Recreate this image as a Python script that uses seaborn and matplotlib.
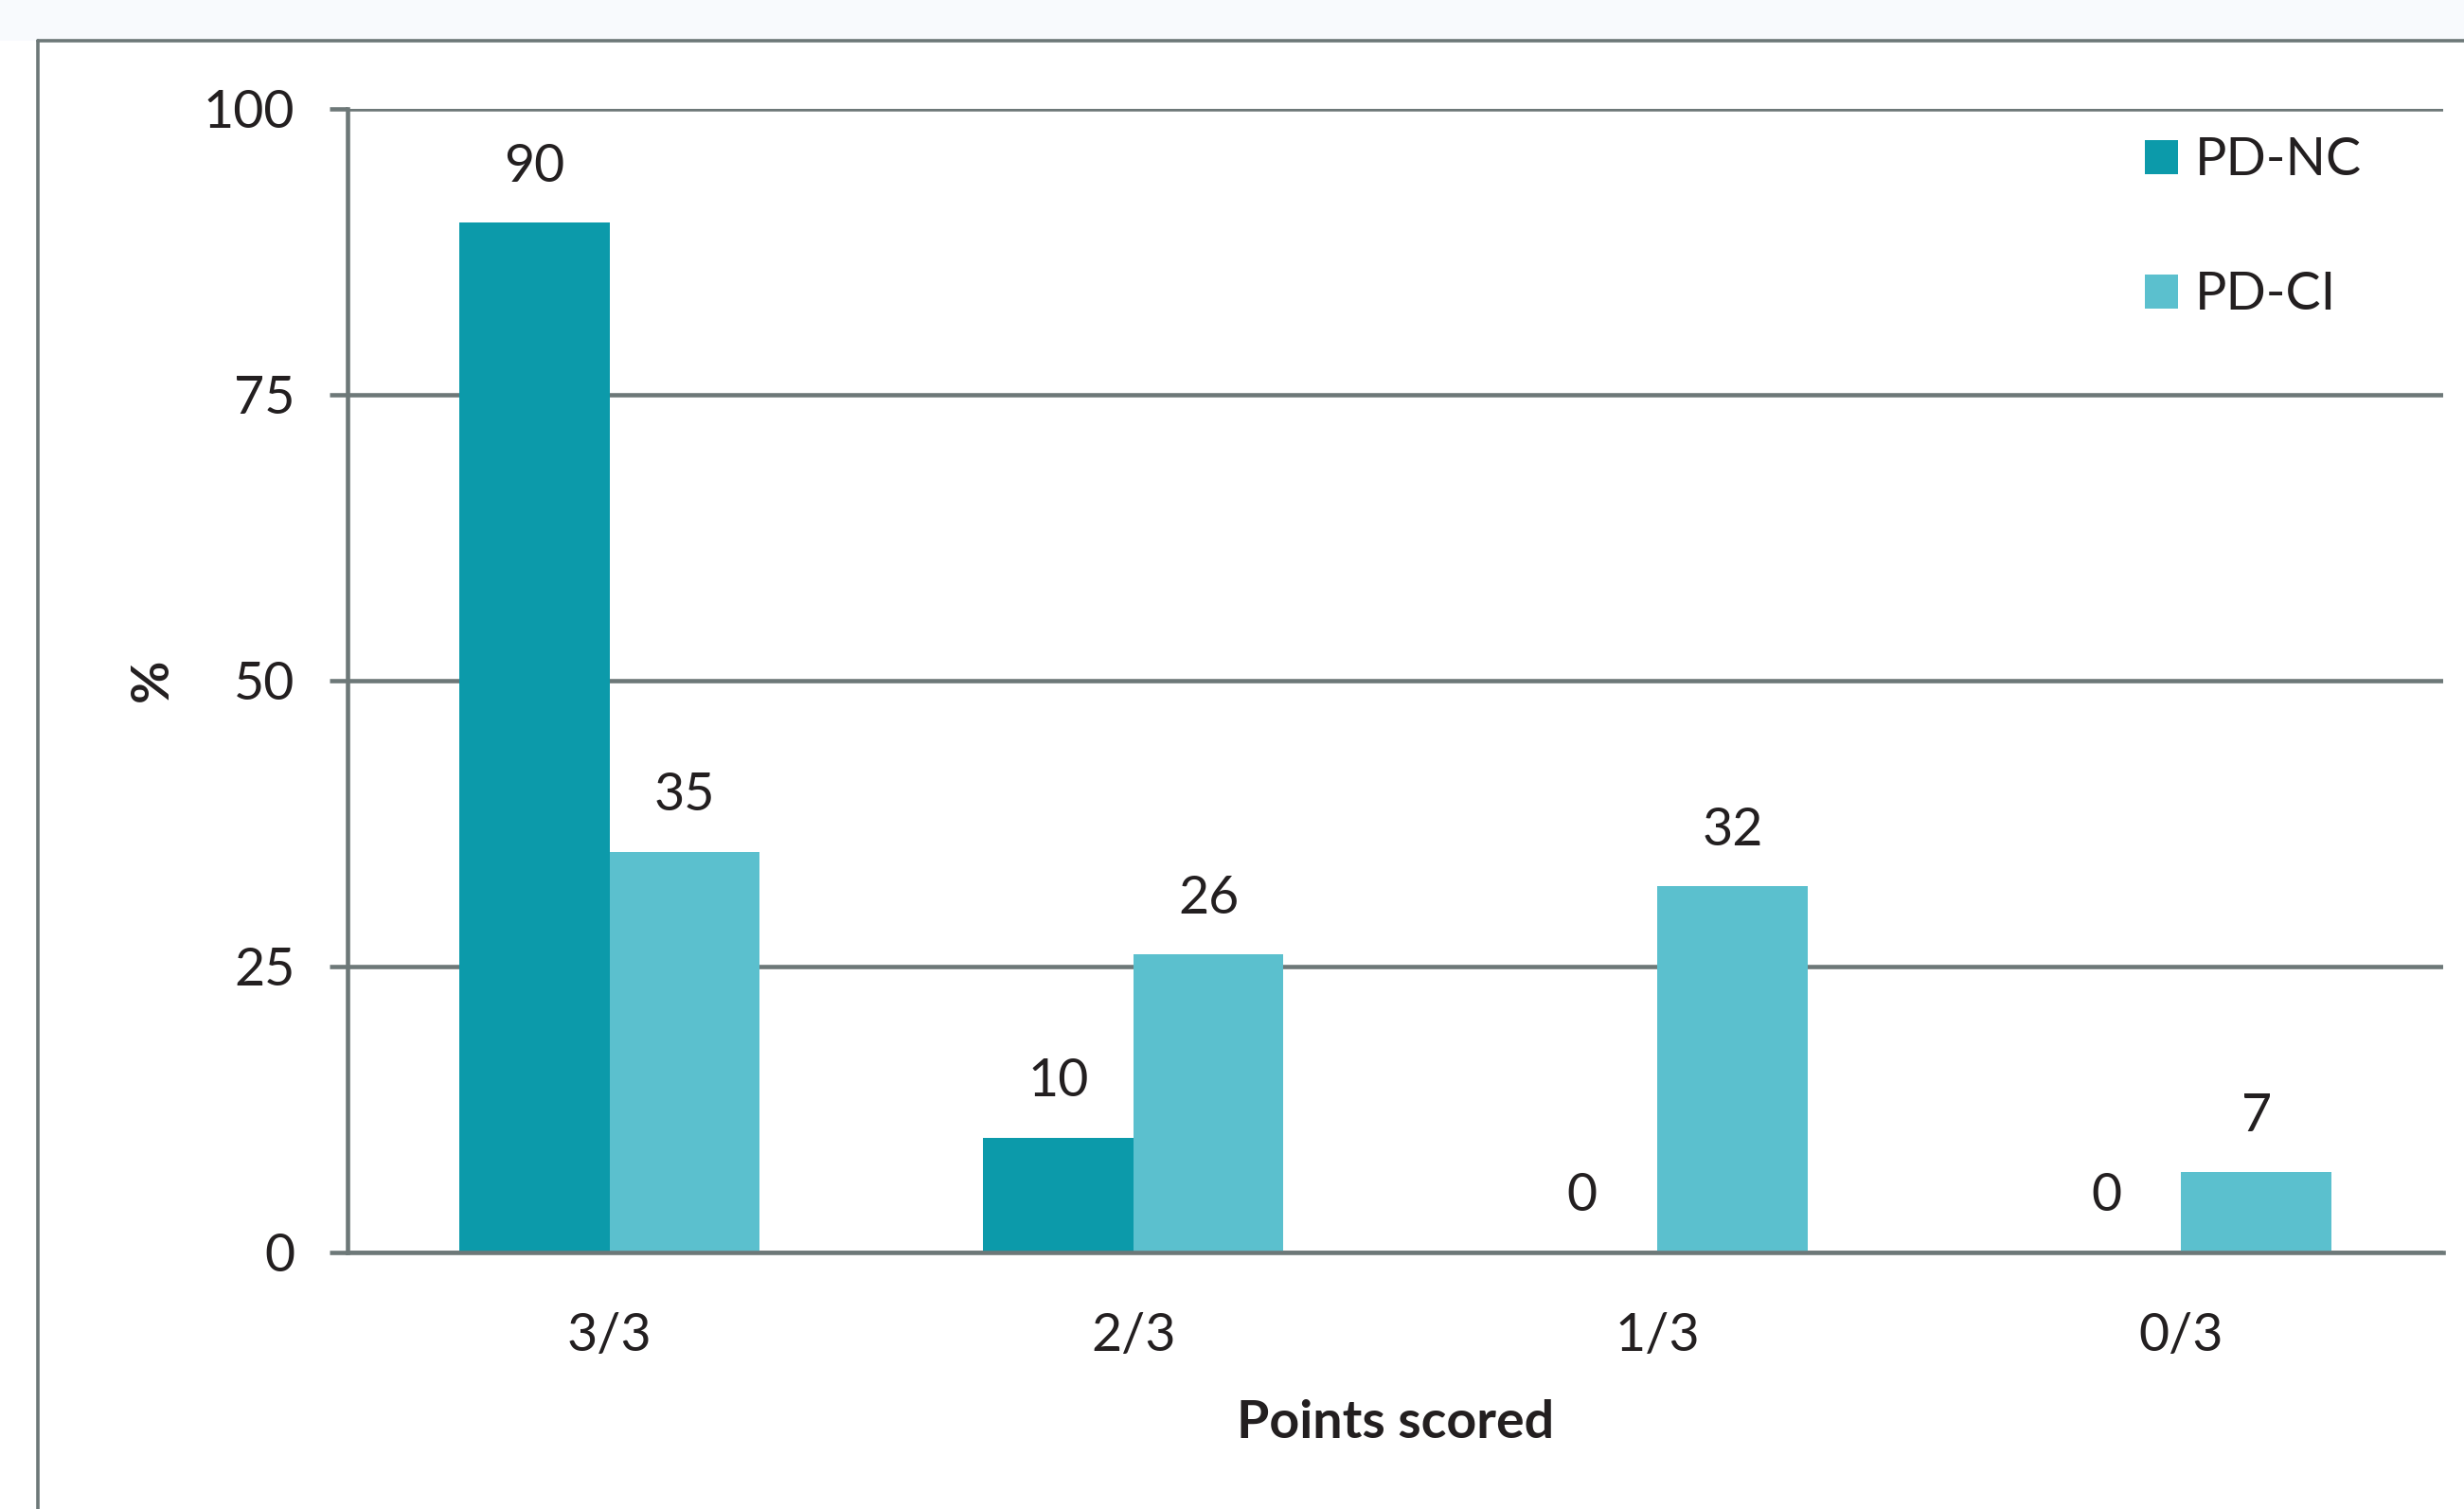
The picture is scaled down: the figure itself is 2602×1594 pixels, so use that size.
import matplotlib
matplotlib.use("Agg")
import matplotlib.pyplot as plt
import seaborn as sns
import pandas as pd
from matplotlib.lines import Line2D
from matplotlib.patches import Rectangle

# ---- data ----
categories = ["3/3", "2/3", "1/3", "0/3"]
pd_nc = [90, 10, 0, 0]
pd_ci = [35, 26, 32, 7]
series_names = ["PD-NC", "PD-CI"]
y_ticks = [0, 25, 50, 75, 100]

df = pd.DataFrame({
    "Points scored": categories * 2,
    "value": pd_nc + pd_ci,
    "group": [series_names[0]] * len(categories) + [series_names[1]] * len(categories),
})

sns.set_theme(style="white")
plt.rcParams["font.family"] = ["Lato", "DejaVu Sans"]

TXT = "#231F20"
GRAY = "#6D7878"
DARK = "#0C9AAA"
LIGHT = "#5BC0CE"
FS = 40
LW = 3.3

fig = plt.figure(figsize=(26.02, 15.94), dpi=100)
fig.patch.set_facecolor("white")
ax = fig.add_axes([367 / 2602, 1 - 1322.5 / 1594, (2580 - 367) / 2602, 1208 / 1594])

sns.barplot(data=df, x="Points scored", y="value", hue="group", order=categories,
            hue_order=series_names, palette=[DARK, LIGHT], width=0.573, gap=0,
            saturation=1, linewidth=0, ax=ax)

ax.set_xlim(-0.5, 3.5)
ax.set_ylim(0, 100)
ax.set_yticks(y_ticks)
ax.set_yticklabels([str(t) for t in y_ticks])
ax.set_axisbelow(True)
ax.yaxis.grid(True, color=GRAY, linewidth=LW)
ax.xaxis.grid(False)

for s in ["top", "right"]:
    ax.spines[s].set_visible(False)
for s in ["left", "bottom"]:
    ax.spines[s].set_visible(True)
    ax.spines[s].set_color(GRAY)
    ax.spines[s].set_linewidth(LW)

ax.tick_params(axis="y", direction="out", length=14, width=LW, color=GRAY,
               labelsize=FS, labelcolor=TXT, pad=26, left=True)
ax.tick_params(axis="x", length=0, labelsize=FS, labelcolor=TXT, pad=46)

for c in ax.containers:
    ax.bar_label(c, labels=[f"{v:.0f}" for v in c.datavalues], padding=24,
                 fontsize=FS, color=TXT)

ax.set_xlabel("Points scored", fontsize=FS, fontweight="bold", color=TXT)
ax.set_ylabel("%", fontsize=FS, fontweight="bold", color=TXT)
ax.xaxis.set_label_coords(0.5, -0.129)
ax.yaxis.set_label_coords(-0.082, 0.5)

handles, labels = ax.get_legend_handles_labels()
ax.legend(handles, labels, loc="upper left", bbox_to_anchor=(2265 / 2602, 0.9095),
          bbox_transform=fig.transFigure, frameon=False, fontsize=FS,
          handlelength=0.63, handleheight=0.63, handletextpad=0.32,
          labelspacing=1.64, borderpad=0, borderaxespad=0, labelcolor=TXT)

# outer frame of the original figure panel
fy = 1 - 43 / 1594
fx = 40 / 2602
fig.patches.append(Rectangle((0, fy), 1, 1 - fy, transform=fig.transFigure,
                             facecolor="#F8FAFD", edgecolor="none", zorder=0))
fig.lines.append(Line2D([fx, fx], [0, fy], transform=fig.transFigure, color=GRAY, lw=2.6))
fig.lines.append(Line2D([fx, 1], [fy, fy], transform=fig.transFigure, color=GRAY, lw=2.6))

fig.savefig("out.png", dpi=100, facecolor="white")
